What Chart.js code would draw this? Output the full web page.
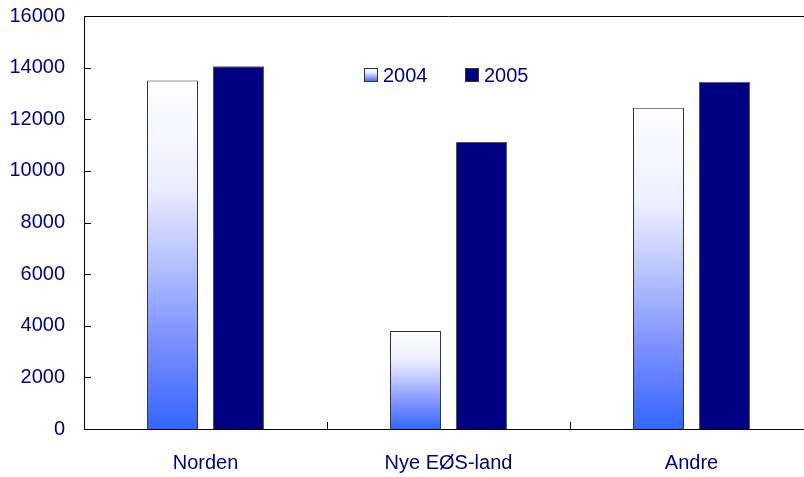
<!DOCTYPE html>
<html lang="no">
<head>
<meta charset="UTF-8">
<title>Norden / Nye EØS-land / Andre</title>
<script src="https://cdn.jsdelivr.net/npm/chart.js"></script>
<style>
  html, body { margin: 0; padding: 0; background: #fff; overflow: hidden; }
  #wrap { width: 814px; height: 477px; }
</style>
</head>
<body>
<div id="wrap"><canvas id="myChart" width="814" height="477"></canvas></div>
<script>
// data
const categories = ['Norden', 'Nye EØS-land', 'Andre'];
const values2004 = [13500, 3800, 12450];
const values2005 = [14050, 11120, 13450];
const seriesLabels = ['2004', '2005'];
const yTicks = [0, 2000, 4000, 6000, 8000, 10000, 12000, 14000, 16000];

const textColor = '#000080';
const font = { family: "'Liberation Sans', Arial, sans-serif", size: 20 };

function blueFade(ctx, top, bottom) {
    const g = ctx.createLinearGradient(0, top, 0, bottom);
    g.addColorStop(0, '#ffffff');
    g.addColorStop(0.3, '#eceeff');
    g.addColorStop(0.5, '#bcc6ff');
    g.addColorStop(0.75, '#7b8fff');
    g.addColorStop(1, '#3366ff');
    return g;
}

// each 2004 bar gets its own white -> blue gradient
function bar2004Fill(context) {
    const chart = context.chart;
    if (!chart.chartArea) return '#ffffff';
    const y = chart.scales.y;
    const v = context.raw;
    return blueFade(chart.ctx, y.getPixelForValue(v), y.getPixelForValue(0));
}

// inward ticks, top frame line and the legend inside the plot
const frame = {
    id: 'frame',
    afterDraw(chart) {
        const ctx = chart.ctx;
        const a = chart.chartArea;
        const xs = chart.scales.x, ys = chart.scales.y;
        ctx.save();
        ctx.strokeStyle = '#000';
        ctx.lineWidth = 1;
        ctx.beginPath();
        ctx.moveTo(a.left, Math.round(a.top) + 0.5);
        ctx.lineTo(a.right, Math.round(a.top) + 0.5);
        ys.ticks.forEach((t, i) => {
            const py = Math.round(ys.getPixelForTick(i)) + 0.5;
            ctx.moveTo(a.left, py);
            ctx.lineTo(a.left + 7, py);
        });
        for (let i = 1; i < categories.length; i++) {
            const px = Math.round((xs.getPixelForTick(i - 1) + xs.getPixelForTick(i)) / 2) + 0.5;
            ctx.moveTo(px, a.bottom);
            ctx.lineTo(px, a.bottom - 7);
        }
        ctx.stroke();

        // legend
        const lx = [a.left + 280, a.left + 381];
        const ly = a.top + 52;
        ctx.font = font.size + 'px ' + font.family;
        ctx.textBaseline = 'middle';
        chart.data.datasets.forEach((ds, i) => {
            const x = lx[i];
            ctx.fillStyle = i === 0 ? blueFade(ctx, ly, ly + 14) : ds.backgroundColor;
            ctx.fillRect(x, ly, 14, 14);
            ctx.strokeStyle = '#333';
            ctx.strokeRect(x + 0.5, ly + 0.5, 13, 13);
            ctx.fillStyle = textColor;
            ctx.fillText(ds.label, x + 19, ly + 8);
        });
        ctx.restore();
    }
};

const data = {
    labels: categories,
    datasets: [{
        label: seriesLabels[0],
        data: values2004,
        backgroundColor: bar2004Fill,
        borderColor: '#333333',
        borderWidth: 1,
        borderSkipped: 'bottom'
    }, {
        label: seriesLabels[1],
        data: values2005,
        backgroundColor: '#000080',
        borderColor: '#555555',
        borderWidth: 1,
        borderSkipped: 'bottom'
    }]
};

const config = {
    type: 'bar',
    data: data,
    options: {
        responsive: false,
        animation: false,
        categoryPercentage: 0.543,
        barPercentage: 0.773,
        layout: { padding: { top: 16, right: 1, bottom: 0, left: 0 } },
        plugins: {
            legend: { display: false },
            tooltip: { enabled: false }
        },
        scales: {
            x: {
                offset: true,
                grid: { display: false, drawTicks: false },
                border: { display: true, color: '#000', width: 1 },
                ticks: { color: textColor, font: font, padding: 22, maxRotation: 0 },
                afterFit(scale) { scale.height = 48; scale.paddingLeft = 0; scale.paddingRight = 0; }
            },
            y: {
                min: 0,
                max: 16000,
                afterBuildTicks(scale) { scale.ticks = yTicks.map(v => ({ value: v })); },
                grid: { display: false, drawTicks: false },
                border: { display: true, color: '#000', width: 1 },
                ticks: { color: textColor, font: font, padding: 19, callback: v => String(v) },
                afterFit(scale) { scale.width = 84; scale.paddingTop = 0; scale.paddingBottom = 0; }
            }
        }
    },
    plugins: [frame]
};

const myChart = new Chart(document.querySelector('#myChart'), config);
</script>
</body>
</html>
